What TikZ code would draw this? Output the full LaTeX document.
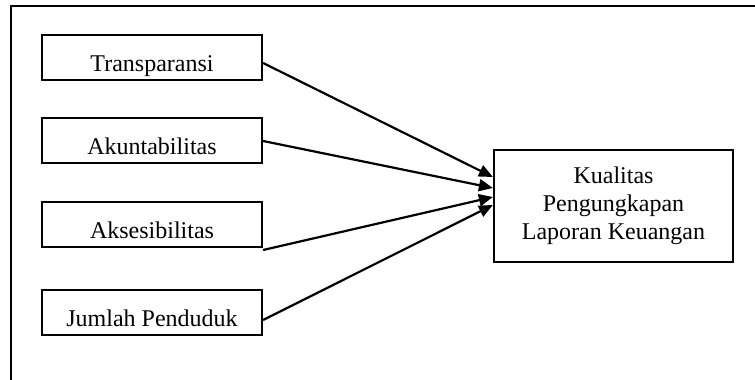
\documentclass[tikz,border=0pt]{standalone}
\usepackage{fontspec}
\setmainfont{Liberation Serif}
\usetikzlibrary{arrows.meta}
\begin{document}
\begin{tikzpicture}[x=1pt,y=-1pt,
  leftbox/.style={draw,line width=2.2pt,rectangle,minimum width=220pt,minimum height=45pt,inner sep=0pt,
    font=\fontsize{24}{28}\selectfont,text height=30pt,text depth=2pt},
  rightbox/.style={draw,line width=2.2pt,rectangle,minimum width=239pt,minimum height=112pt,inner sep=0pt,
    align=center,font=\fontsize{24}{28}\selectfont},
  conn/.style={line width=2.2pt,-{Triangle[length=14pt,width=12pt]}}]
\useasboundingbox (0,0) rectangle (755,380);
\draw[line width=1.6pt] (11,380) -- (11,6) -- (755,6);
\node[leftbox] (t) at (152,57.5) {Transparansi};
\node[leftbox] (a) at (152,140.5) {Akuntabilitas};
\node[leftbox] (s) at (152,224.5) {Aksesibilitas};
\node[leftbox] (j) at (152,312.5) {Jumlah Penduduk};
\node[rightbox] (k) at (613.5,206) {Kualitas\\Pengungkapan\\Laporan Keuangan};
\draw[conn] ([yshift=-5.5pt]t.east) -- ([yshift=29pt]k.west);
\draw[conn] ([yshift=-0.5pt]a.east) -- ([yshift=18pt]k.west);
\draw[conn] ([yshift=-25.5pt]s.east) -- ([yshift=9pt]k.west);
\draw[conn] ([yshift=-7.5pt]j.east) -- ([yshift=1pt]k.west);
\end{tikzpicture}
\end{document}
